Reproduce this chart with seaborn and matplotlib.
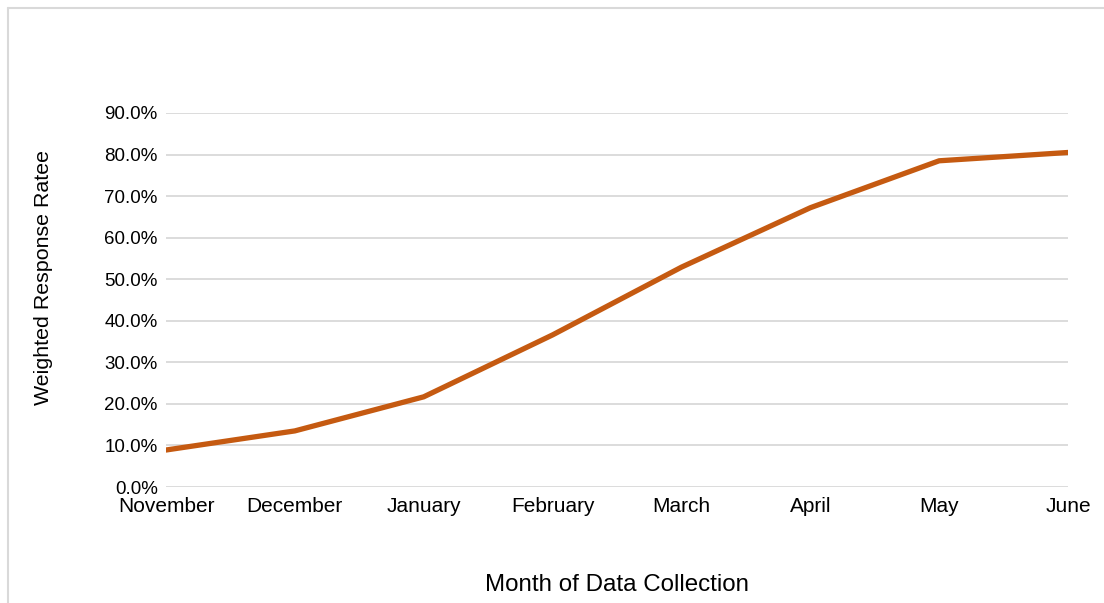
import matplotlib.pyplot as plt
import pandas as pd
import seaborn as sns
from matplotlib.ticker import PercentFormatter
from matplotlib.lines import Line2D

# Data #

months = ["November", "December", "January", "February", "March", "April", "May", "June"]
response_rate = [0.089, 0.135, 0.217, 0.366, 0.529, 0.672, 0.785, 0.805]

df = pd.DataFrame({"Month": months, "Rate": response_rate})

sns.set_theme(style="white")
plt.rcParams['font.family'] = ['Liberation Sans Narrow', 'Liberation Sans', 'DejaVu Sans']

fig = plt.figure(figsize=(11.04, 6.03), dpi=100)
ax = fig.add_axes([166 / 1104, 1 - 487 / 603, (1068 - 166) / 1104, (487 - 113) / 603])

sns.lineplot(data=df, x="Month", y="Rate", sort=False, color="#C55A11", linewidth=3.8, ax=ax)

ax.set_xlim(0, len(months) - 1)
ax.set_ylim(0, 0.9)
ax.set_yticks([i / 10 for i in range(10)])
ax.yaxis.set_major_formatter(PercentFormatter(1.0, decimals=1))
ax.grid(axis="y", color="#d9d9d9", linewidth=1.3)
ax.set_axisbelow(True)
for s in ax.spines.values():
    s.set_visible(False)

ax.tick_params(axis="y", length=0, labelsize=13.5, labelcolor="black", pad=6)
ax.tick_params(axis="x", length=0, labelsize=15, labelcolor="black", pad=7)

ax.set_xlabel("Month of Data Collection", fontsize=17.4, color="black")
ax.set_ylabel("Weighted Response Ratee", fontsize=15.4, color="black")
ax.xaxis.set_label_coords(0.5, -0.232)
ax.yaxis.set_label_coords(-0.125, 0.559)

# chart border
fig.add_artist(Line2D([8 / 1104, 8 / 1104], [0, 1 - 8 / 603], color="#d9d9d9", linewidth=1.5))
fig.add_artist(Line2D([8 / 1104, 1], [1 - 8 / 603, 1 - 8 / 603], color="#d9d9d9", linewidth=1.5))

plt.savefig("out.png", format='png', dpi=100)
